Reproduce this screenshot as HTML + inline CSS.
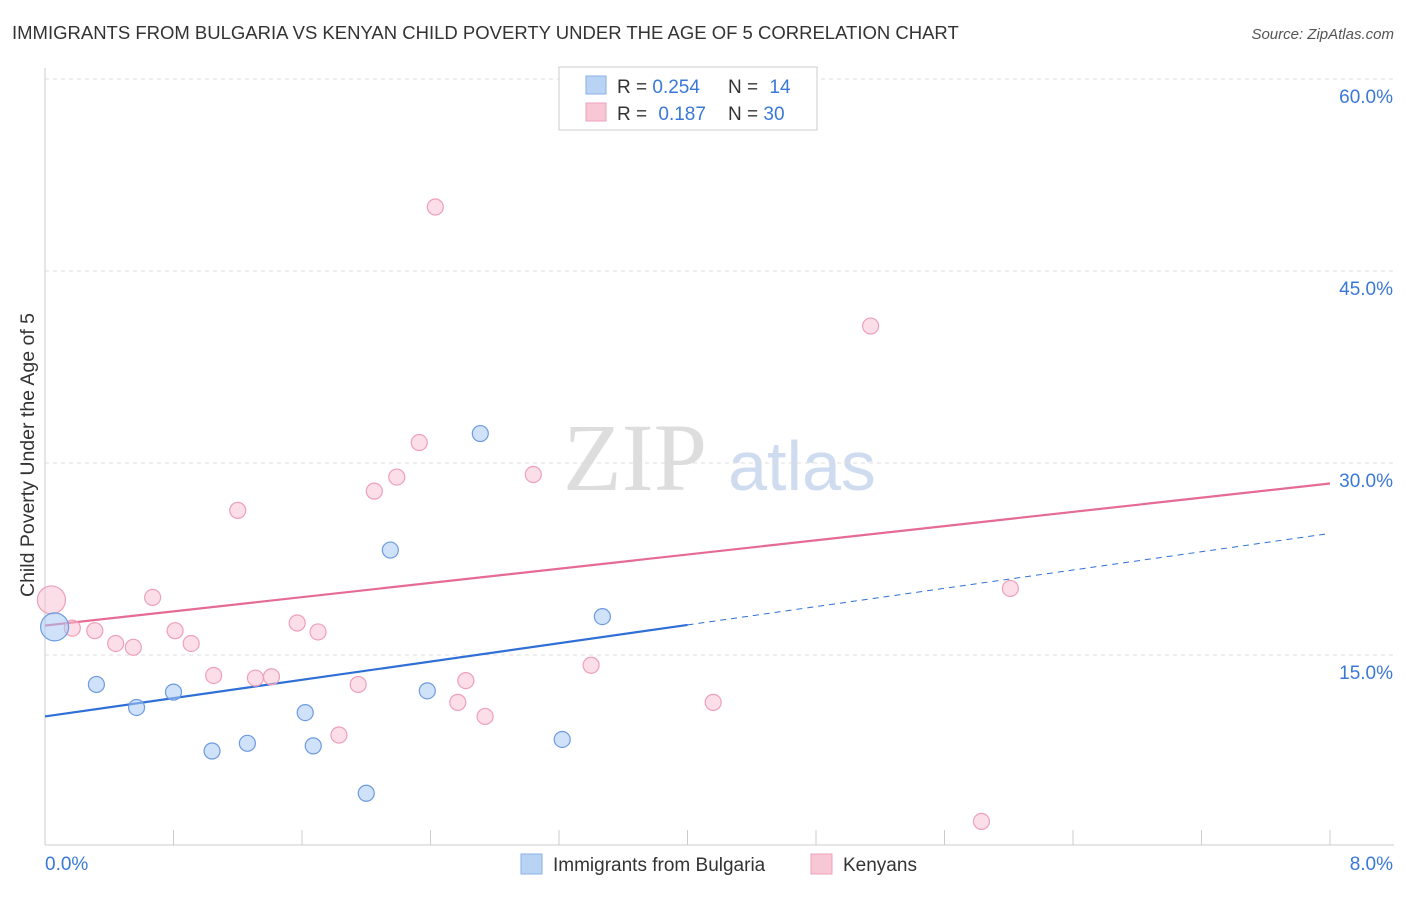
<!DOCTYPE html>
<html><head><meta charset="utf-8"><style>
body{margin:0;background:#fff;font-family:"Liberation Sans",sans-serif;}
</style></head><body>
<svg width="1406" height="892" xmlns="http://www.w3.org/2000/svg" id="chart">
<text x="12" y="39" font-size="18.5" fill="#333">IMMIGRANTS FROM BULGARIA VS KENYAN CHILD POVERTY UNDER THE AGE OF 5 CORRELATION CHART</text>
<text x="1394" y="39" font-size="15" fill="#555" font-style="italic" text-anchor="end">Source: ZipAtlas.com</text>
<text x="34" y="455" font-size="19.5" fill="#333" text-anchor="middle" transform="rotate(-90 34 455)">Child Poverty Under the Age of 5</text>
<g>
<text x="635" y="490" font-size="96" fill="#ddd" font-family="Liberation Serif,serif" text-anchor="middle">ZIP</text>
<text x="802" y="490" font-size="70" fill="#cfdcf0" text-anchor="middle">atlas</text>
</g>
<g id="grid"></g><g id="axes"></g><g id="trends"></g><g id="points"></g>
<g>
<rect x="559" y="67" width="258" height="63" fill="#fff" stroke="#ccc"/>
<rect x="586" y="76" width="20" height="18" fill="#b9d3f5" stroke="#8ab0e6"/>
<rect x="586" y="103" width="20" height="18" fill="#f8c7d5" stroke="#eea0b8"/>
<text x="617" y="93" font-size="19" fill="#333">R = <tspan fill="#3a78d8">0.254</tspan></text>
<text x="728" y="93" font-size="19" fill="#333">N = <tspan fill="#3a78d8" dx="6">14</tspan></text>
<text x="617" y="120" font-size="19" fill="#333">R = <tspan fill="#3a78d8" dx="6">0.187</tspan></text>
<text x="728" y="120" font-size="19" fill="#333">N = <tspan fill="#3a78d8">30</tspan></text>
</g>
<g>
<rect x="521" y="854" width="21" height="20" fill="#b9d3f5" stroke="#8ab0e6"/>
<text x="553" y="871" font-size="19" fill="#333">Immigrants from Bulgaria</text>
<rect x="811" y="854" width="21" height="20" fill="#f8c7d5" stroke="#eea0b8"/>
<text x="843" y="871" font-size="19" fill="#333">Kenyans</text>
</g>
</svg>
<script>
const blueX=[0.06,0.32,0.57,0.80,1.04,1.26,1.62,1.67,2.00,2.15,2.38,2.71,3.22,3.47];
const blueY=[17.2,12.7,10.9,12.1,7.5,8.1,10.5,7.9,4.2,23.2,12.2,32.3,8.4,18.0];
const pinkX=[0.04,0.17,0.31,0.44,0.55,0.67,0.81,0.91,1.05,1.20,1.31,1.41,1.57,1.70,1.83,1.95,2.05,2.19,2.33,2.43,2.57,2.62,2.74,3.04,3.40,4.16,5.14,5.83,6.01];
const pinkY=[19.3,17.1,16.9,15.9,15.6,19.5,16.9,15.9,13.4,26.3,13.2,13.3,17.5,16.8,8.75,12.7,27.8,28.9,31.6,50.0,11.3,13.0,10.2,29.1,14.2,11.3,40.7,2.0,20.2];
const blueTrend=[10.2,24.5]; // y at x=0 and x=8
const pinkTrend=[17.3,28.4];
const yTicks=[15,30,45,60];
const xTickLabels=["0.0%","8.0%"];
const NS="http://www.w3.org/2000/svg";
const sx=v=>45+v/8*1285, sy=v=>847-v/15*192;
function mk(p,t,a){const e=document.createElementNS(NS,t);for(const k in a)e.setAttribute(k,a[k]);document.getElementById(p).appendChild(e);return e;}
yTicks.forEach(t=>{
 const l=mk('grid','line',{x1:45,x2:1394,y1:sy(t),y2:sy(t),stroke:'#ddd','stroke-dasharray':'4 4'});
 
 
 const tx=mk('grid','text',{x:1393,y:sy(t)+24,'font-size':19,fill:'#3a78d8','text-anchor':'end'});
 tx.textContent=t.toFixed(1)+'%';
 
 
});
mk('axes','line',{x1:45,x2:45,y1:68,y2:845,stroke:'#ccc'});
mk('axes','line',{x1:45,x2:1394,y1:845,y2:845,stroke:'#ccc'});
for(let i=1;i<=10;i++){const x=sx(i*0.8);const t=mk('axes','line',{x1:x,x2:x,y1:830,y2:845,stroke:'#ccc'});
 
 }
const xl0=mk('axes','text',{x:45,y:870,'font-size':19,fill:'#3a78d8'});xl0.textContent=xTickLabels[0];


const xl1=mk('axes','text',{x:1393,y:870,'font-size':19,fill:'#3a78d8','text-anchor':'end'});xl1.textContent=xTickLabels[1];


const by=x=>blueTrend[0]+(blueTrend[1]-blueTrend[0])*x/8;
const py=x=>pinkTrend[0]+(pinkTrend[1]-pinkTrend[0])*x/8;
let l=mk('trends','line',{x1:sx(0),y1:sy(by(0)),x2:sx(4),y2:sy(by(4)),stroke:'#2f6fd6','stroke-width':2.2});


l=mk('trends','line',{x1:sx(4),y1:sy(by(4)),x2:sx(8),y2:sy(by(8)),stroke:'#2f6fd6','stroke-width':1,'stroke-dasharray':'6 5'});


l=mk('trends','line',{x1:sx(0),y1:sy(py(0)),x2:sx(8),y2:sy(py(8)),stroke:'#e56b93','stroke-width':2.2});


pinkX.forEach((x,i)=>{const c=mk('points','circle',{cx:sx(x),cy:sy(pinkY[i]),r:i==0?14:8,fill:'rgba(248,190,208,0.5)',stroke:'#eea0b8','stroke-width':1.2});
 
 });
blueX.forEach((x,i)=>{const c=mk('points','circle',{cx:sx(x),cy:sy(blueY[i]),r:i==0?14:8,fill:'rgba(170,200,245,0.55)',stroke:'#6d9be0','stroke-width':1.2});
 
 });
</script>
</body></html>
